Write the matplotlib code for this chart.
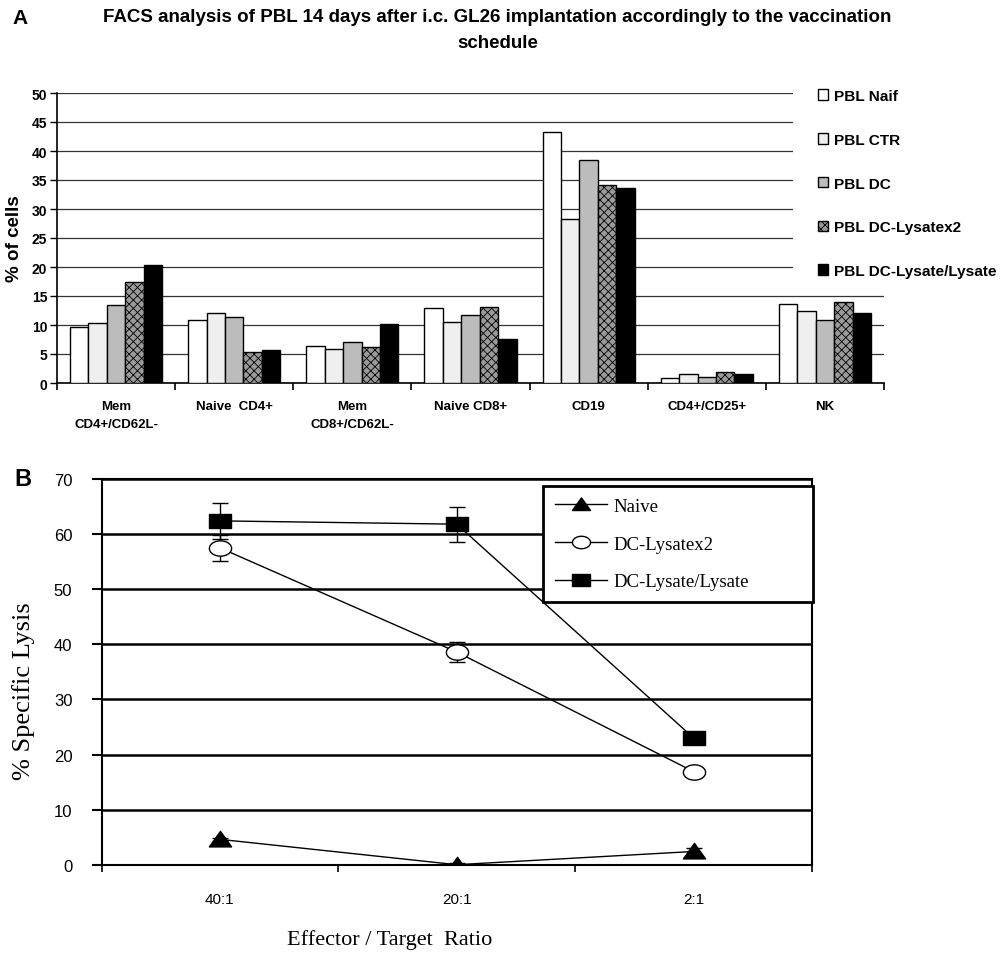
import numpy as np
import matplotlib
matplotlib.use("Agg")
import matplotlib.pyplot as plt
from matplotlib.patches import Rectangle
from matplotlib.path import Path

# panel A data: FACS of PBL
categories = ["Mem\nCD4+/CD62L-", "Naive  CD4+", "Mem\nCD8+/CD62L-", "Naive CD8+",
              "CD19", "CD4+/CD25+", "NK"]
groups = ["PBL Naif", "PBL CTR", "PBL DC", "PBL DC-Lysatex2", "PBL DC-Lysate/Lysate"]
pbl_naif = [9.6, 10.8, 6.3, 12.9, 43.2, 0.8, 13.6]
pbl_ctr = [10.4, 12.0, 5.9, 10.5, 28.3, 1.5, 12.5]
pbl_dc = [13.5, 11.3, 7.1, 11.7, 38.4, 1.0, 10.8]
pbl_lys2 = [17.4, 5.4, 6.2, 13.1, 34.2, 1.9, 13.9]
pbl_lyslys = [20.4, 5.7, 10.1, 7.6, 33.7, 1.5, 12.0]

# panel B data: cytotoxicity
ratios = ["40:1", "20:1", "2:1"]
naive_lysis = [4.6, 0.0, 2.4]
naive_err = [0.3, 0.3, 0.6]
lys2_lysis = [57.5, 38.6, 16.9]
lys2_err = [2.4, 1.8, 0.6]
lyslys_lysis = [62.4, 61.8, 23.0]
lyslys_err = [3.2, 3.2, 0.3]

sans = ["Liberation Sans", "DejaVu Sans"]
serif = ["Liberation Serif", "DejaVu Serif"]
plt.rcParams["hatch.linewidth"] = 0.6

fig = plt.figure(figsize=(10.01, 9.54), dpi=100)

# ---------------- panel A ----------------
ax = fig.add_axes([57 / 1001, 1 - 384 / 954, 827 / 1001, 290 / 954])
series = [pbl_naif, pbl_ctr, pbl_dc, pbl_lys2, pbl_lyslys]
faces = ["white", "#efefef", "#bcbcbc", "#9a9a9a", "black"]
hatches = [None, None, None, "xxxx", None]
w = 0.156
xc = np.arange(len(categories))
bars = []
for i, vals in enumerate(series):
    b = ax.bar(xc + (i - 2) * w, vals, w, color=faces[i], edgecolor="black",
               linewidth=1.0, hatch=hatches[i], zorder=3, label=groups[i])
    bars.append(b)

ax.set_xlim(-0.5, 6.5)
ax.set_ylim(0, 50)
ax.set_yticks(np.arange(0, 51, 5))
ax.yaxis.grid(True, color="#333333", linewidth=0.9)
ax.set_axisbelow(True)
for s in ["top", "right"]:
    ax.spines[s].set_visible(False)
ax.spines["left"].set_linewidth(1.2)
ax.spines["bottom"].set_linewidth(1.2)
ax.set_xticks(np.arange(-0.5, 7, 1))
ax.set_xticklabels([])
ax.set_xticks(xc, minor=True)
ax.set_xticklabels(categories, minor=True, fontfamily=sans, fontweight="bold",
                   fontsize=9.5, linespacing=1.75)
ax.tick_params(axis="x", which="major", direction="out", length=5, width=1.2)
ax.tick_params(axis="x", which="minor", length=0, pad=12)
ax.tick_params(axis="y", direction="out", length=5, width=1, pad=2)
for t in ax.get_yticklabels():
    t.set_fontfamily(sans)
    t.set_fontweight("bold")
    t.set_fontsize(10)
ax.set_ylabel("% of cells", fontfamily=sans, fontweight="bold", fontsize=13.5, labelpad=6)

# white area behind the legend, like the original
ax.add_patch(Rectangle((0.89, 0.334), 0.2, 0.7, transform=ax.transAxes,
                       facecolor="white", edgecolor="none", zorder=1, clip_on=False))
fig.legend(handles=bars, labels=groups, loc="upper left",
           bbox_to_anchor=(818 / 1001, 1 - 90 / 954), frameon=False,
           prop={"family": sans, "weight": "bold", "size": 11.1},
           handlelength=0.68, handleheight=0.68, handletextpad=0.35,
           labelspacing=1.93, borderpad=0, borderaxespad=0)

fig.text(0.497, 1 - 18 / 954,
         "FACS analysis of PBL 14 days after i.c. GL26 implantation accordingly to the vaccination",
         ha="center", va="center", fontfamily=sans, fontweight="bold", fontsize=13.5)
fig.text(0.497, 1 - 44 / 954, "schedule", ha="center", va="center",
         fontfamily=sans, fontweight="bold", fontsize=13.5)
fig.text(12 / 1001, 1 - 19 / 954, "A", ha="left", va="center",
         fontfamily=sans, fontweight="bold", fontsize=15)

# ---------------- panel B ----------------
bx = fig.add_axes([101.5 / 1001, 1 - 865.7 / 954, 710.5 / 1001, 385.7 / 954])
xp = np.arange(len(ratios)) + 0.5

t = np.linspace(0, 2 * np.pi, 60)
ellipse = Path(np.column_stack([1.45 * np.cos(t), np.sin(t)]), closed=True)
wide_sq = Path([(-1.5, -1), (1.5, -1), (1.5, 1), (-1.5, 1), (-1.5, -1)], closed=True)
wide_tri = Path([(-1.5, -1), (1.5, -1), (0, 1.1), (-1.5, -1)], closed=True)

for vals, err, mk, fc, lab in [
        (naive_lysis, naive_err, wide_tri, "black", "Naive"),
        (lys2_lysis, lys2_err, ellipse, "white", "DC-Lysatex2"),
        (lyslys_lysis, lyslys_err, wide_sq, "black", "DC-Lysate/Lysate")]:
    bx.errorbar(xp, vals, yerr=err, fmt="none", ecolor="black", elinewidth=1,
                capsize=5.5, capthick=1, zorder=3)
    bx.plot(xp, vals, color="black", linewidth=1, marker=mk, markersize=16,
            markerfacecolor=fc, markeredgecolor="black", markeredgewidth=1,
            zorder=4, label=lab)

bx.set_xlim(0, 3)
bx.set_ylim(0, 70)
bx.set_yticks(np.arange(0, 71, 10))
bx.yaxis.grid(True, color="black", linewidth=1.8)
bx.set_axisbelow(True)
for s in bx.spines.values():
    s.set_linewidth(1.5)
bx.set_xticks([0, 1, 2, 3])
bx.set_xticklabels([])
bx.set_xticks(xp, minor=True)
bx.set_xticklabels(ratios, minor=True, fontfamily=sans, fontsize=11)
bx.tick_params(axis="x", which="major", direction="out", length=5, width=1.2)
bx.tick_params(axis="x", which="minor", length=0, pad=20)
bx.tick_params(axis="y", direction="out", length=7, width=1.5, pad=14)
for t_ in bx.get_yticklabels():
    t_.set_fontfamily(sans)
    t_.set_fontsize(12)
bx.set_ylabel("% Specific Lysis", fontfamily=serif, fontsize=19)
bx.yaxis.set_label_coords(-(101.5 - 35) / 710.5, (865.7 - 691) / 385.7)
bx.set_xlabel("Effector / Target  Ratio", fontfamily=serif, fontsize=16)
bx.xaxis.set_label_coords((390 - 101.5) / 710.5, -(930 - 865.7) / 385.7)

leg = bx.legend(loc="upper left",
                bbox_to_anchor=((543 - 101.5) / 710.5, (865.7 - 491) / 385.7,
                                (813 - 543) / 710.5, 0.01),
                mode="expand", fancybox=False, framealpha=1, edgecolor="black",
                prop={"family": serif, "size": 13.5}, handlelength=2.8,
                handletextpad=0.35, labelspacing=1.1, borderpad=0.62,
                borderaxespad=0)
leg.get_frame().set_linewidth(2)
for h in leg.legend_handles:
    h.set_markersize(13)

fig.text(14 / 1001, 1 - 479 / 954, "B", ha="left", va="center",
         fontfamily=sans, fontweight="bold", fontsize=17)

fig.savefig("out.png", dpi=100)
